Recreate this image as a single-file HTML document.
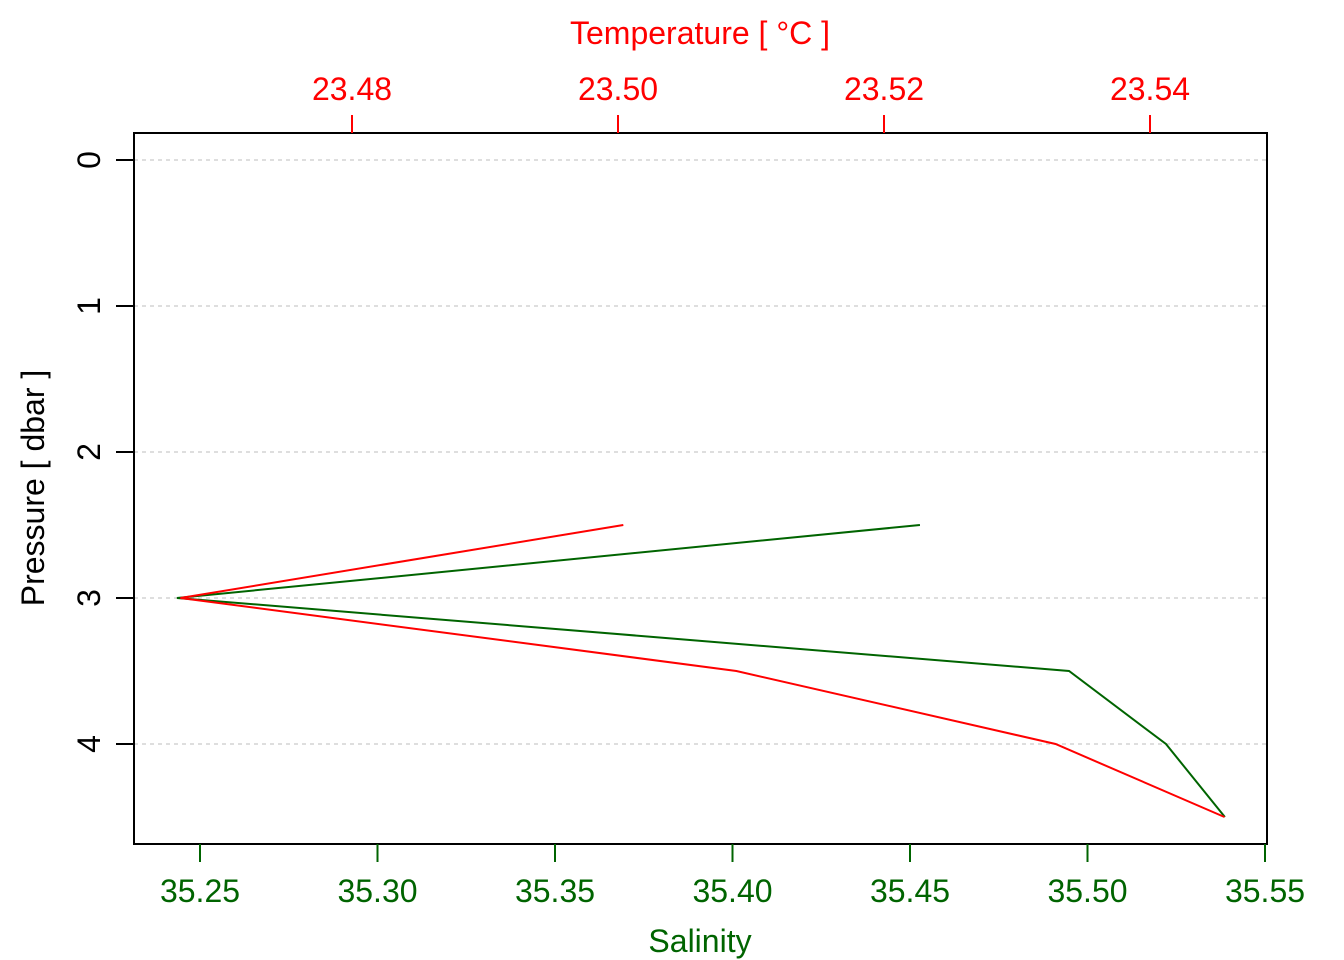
<!DOCTYPE html>
<html><head><meta charset="utf-8"><style>
html,body{margin:0;padding:0;background:#fff;}
svg{display:block;font-family:"Liberation Sans",Arial,sans-serif;}
</style></head><body>
<svg id="chart" width="1344" height="960" viewBox="0 0 1344 960" xmlns="http://www.w3.org/2000/svg">
<rect x="0" y="0" width="1344" height="960" fill="#fff"/>
<g id="grid"></g>
<g id="series"></g>
<rect x="134" y="133" width="1133" height="711" fill="none" stroke="#000" stroke-width="2"/>
<g id="axes"></g>
<text x="700" y="44" fill="#ff0000" font-size="32" text-anchor="middle">Temperature [ °C ]</text>
<text x="700" y="952" fill="#006400" font-size="32" text-anchor="middle">Salinity</text>
<text transform="translate(44,488) rotate(-90)" fill="#000" font-size="32" text-anchor="middle">Pressure [ dbar ]</text>
</svg>
<script>
const pressure = [2.5, 3, 3.5, 4, 4.5];
const salinity = [35.4528, 35.2435, 35.4948, 35.5221, 35.5387];
const temperature = [23.5004, 23.4671, 23.5089, 23.5329, 23.5456];
const salTicks = [35.25, 35.30, 35.35, 35.40, 35.45, 35.50, 35.55];
const tempTicks = [23.48, 23.50, 23.52, 23.54];
const presTicks = [0, 1, 2, 3, 4];

const NS = "http://www.w3.org/2000/svg";
const xS = v => 200 + (v - 35.25) / 0.30 * 1065;
const xT = v => 352 + (v - 23.48) / 0.06 * 798;
const yP = v => 160 + v * 146;
function mk(tag, attrs, parent) {
  const e = document.createElementNS(NS, tag);
  for (const k in attrs) e.setAttribute(k, attrs[k]);
  parent.appendChild(e);
  return e;
}
const grid = document.getElementById('grid');
const axes = document.getElementById('axes');
const series = document.getElementById('series');

presTicks.forEach(p => {
  const y = yP(p);
  const g = mk('line', {x1: 134, x2: 1267, y1: y, y2: y, stroke: '#d3d3d3', 'stroke-width': 1.5, 'stroke-dasharray': '4,4'}, grid);
  
  
  const t = mk('line', {x1: 116, x2: 134, y1: y, y2: y, stroke: '#000', 'stroke-width': 2}, axes);
  
  
  const l = mk('text', {transform: 'translate(100,' + y + ') rotate(-90)', 'font-size': 32, 'text-anchor': 'middle', fill: '#000'}, axes);
  l.textContent = String(p);
  
  
});
salTicks.forEach(s => {
  const x = xS(s);
  const t = mk('line', {x1: x, x2: x, y1: 844, y2: 862, stroke: '#006400', 'stroke-width': 2}, axes);
  
  
  const l = mk('text', {x: x, y: 902, 'font-size': 32, 'text-anchor': 'middle', fill: '#006400'}, axes);
  l.textContent = s.toFixed(2);
  
  
});
tempTicks.forEach(s => {
  const x = xT(s);
  const t = mk('line', {x1: x, x2: x, y1: 115, y2: 133, stroke: '#ff0000', 'stroke-width': 2}, axes);
  
  
  const l = mk('text', {x: x, y: 100, 'font-size': 32, 'text-anchor': 'middle', fill: '#ff0000'}, axes);
  l.textContent = s.toFixed(2);
  
  
});
const sl = mk('polyline', {points: pressure.map((p, i) => xS(salinity[i]) + ',' + yP(p)).join(' '), fill: 'none', stroke: '#006400', 'stroke-width': 2}, series);


const tl = mk('polyline', {points: pressure.map((p, i) => xT(temperature[i]) + ',' + yP(p)).join(' '), fill: 'none', stroke: '#ff0000', 'stroke-width': 2}, series);


</script>
</body></html>
